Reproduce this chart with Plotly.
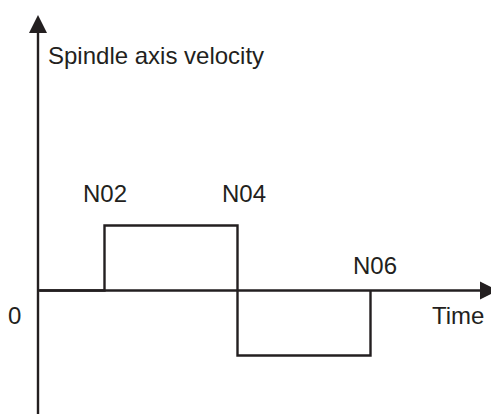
import plotly.graph_objects as go

# ---- data ----
event_times = [0, 1, 3, 5]          # block changes (time units)
velocity = [0, 1, -1, 0]            # spindle velocity after each change
event_labels = ["N02", "N04", "N06"]
label_times = [1, 3, 5]
y_label = "Spindle axis velocity"
x_label = "Time"
zero_label = "0"

# ---- layout constants (pixels / ranges) ----
PAGE_OFF = 8      # default body margin of the html page
W, H = 499 - PAGE_OFF, 414 - PAGE_OFF
PX_PER_T = 66.5
PX_PER_V = 65.0
X0_PX = 38.0 - PAGE_OFF      # pixel of t=0 (figure coords)
Y0_PX = 290.5 - PAGE_OFF     # pixel of v=0 (figure coords)
xmin = -X0_PX / PX_PER_T
xmax = xmin + W / PX_PER_T
ymax = Y0_PX / PX_PER_V
ymin = -(H - Y0_PX) / PX_PER_V

def vx(px):  # screen px -> data
    return (px - PAGE_OFF - X0_PX) / PX_PER_T

def vy(py):
    return (Y0_PX - (py - PAGE_OFF)) / PX_PER_V

INK = "#231f20"
FONT = dict(family="Liberation Sans, Arial, sans-serif", size=24, color=INK)

fig = go.Figure()
fig.add_trace(go.Scatter(
    x=event_times, y=velocity, mode="lines",
    line=dict(color=INK, width=2.4, shape="hv"),
    hoverinfo="skip", showlegend=False,
))

annotations = []
# axes with arrowheads
annotations.append(dict(x=0, y=vy(15), ax=0, ay=vy(416), xref="x", yref="y",
                        axref="x", ayref="y", showarrow=True, arrowhead=2,
                        arrowsize=1.5, arrowwidth=2.4, arrowcolor=INK, text="",
                        standoff=0))
annotations.append(dict(x=vx(498), y=0, ax=0, ay=0, xref="x", yref="y",
                        axref="x", ayref="y", showarrow=True, arrowhead=2,
                        arrowsize=1.5, arrowwidth=2.4, arrowcolor=INK, text="",
                        standoff=0))
# texts
annotations.append(dict(x=vx(48), y=vy(55), xref="x", yref="y", text=y_label,
                        showarrow=False, xanchor="left", yanchor="middle",
                        xshift=-2, font=FONT))
label_px = [105, 244, 375]
label_py = [193, 193, 265]
for lab, t, px, py in zip(event_labels, label_times, label_px, label_py):
    annotations.append(dict(x=t, y=vy(py), xref="x", yref="y", text=lab,
                            showarrow=False, xanchor="center", yanchor="middle",
                            xshift=px - (X0_PX + PAGE_OFF + t * PX_PER_T),
                            font=FONT))
annotations.append(dict(x=vx(14), y=vy(315), xref="x", yref="y", text=zero_label,
                        showarrow=False, xanchor="center", yanchor="middle",
                        font=FONT))
annotations.append(dict(x=vx(458), y=vy(315), xref="x", yref="y", text=x_label,
                        showarrow=False, xanchor="center", yanchor="middle",
                        font=FONT))

fig.update_layout(
    width=W, height=H,
    margin=dict(l=0, r=0, t=0, b=0),
    paper_bgcolor="white", plot_bgcolor="white",
    xaxis=dict(range=[xmin, xmax], visible=False, fixedrange=True),
    yaxis=dict(range=[ymin, ymax], visible=False, fixedrange=True),
    annotations=annotations,
    showlegend=False,
)

fig.write_html("out.html", config={"displayModeBar": False})
